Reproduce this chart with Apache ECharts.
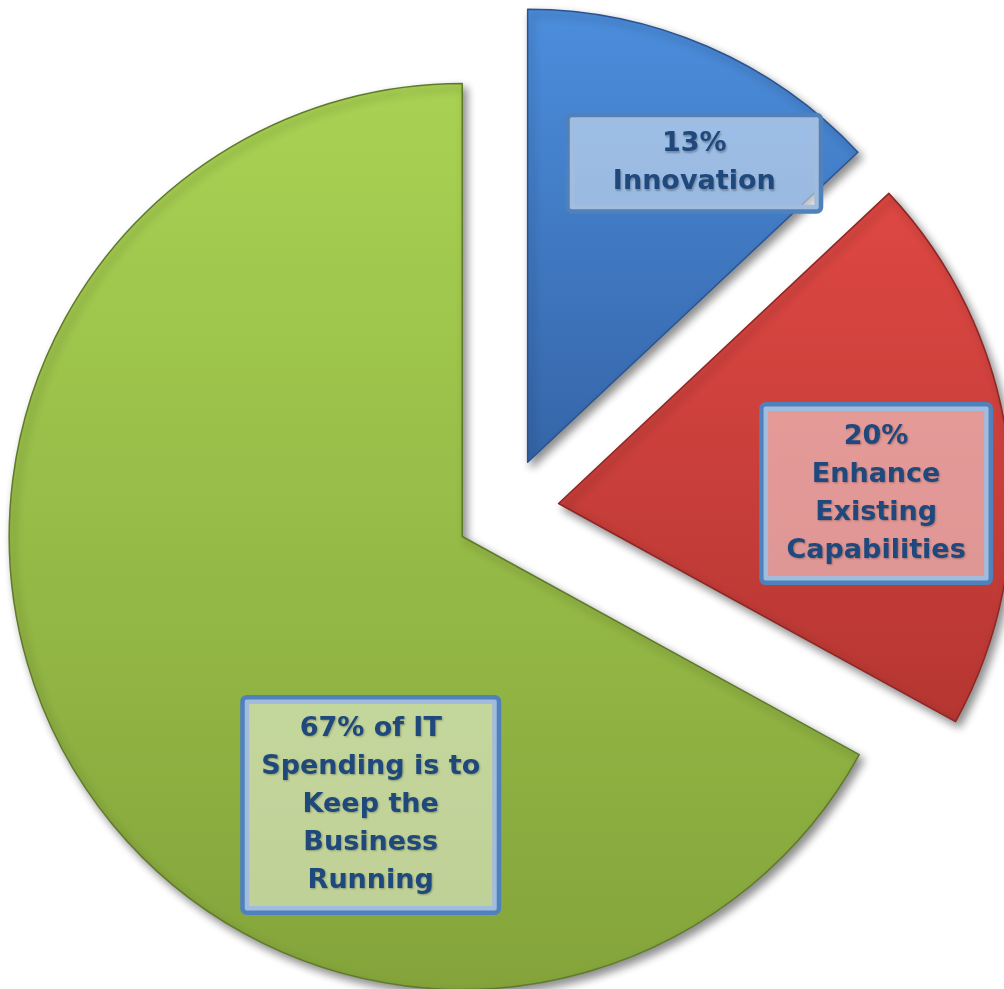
<!DOCTYPE html>
<html>
<head>
<meta charset="utf-8">
<script src="https://cdn.jsdelivr.net/npm/echarts@6/dist/echarts.min.js"></script>
<style>
  html, body { margin: 0; padding: 0; background: #ffffff; }
  #chart { width: 1004px; height: 989px; }
</style>
</head>
<body>
<div id="chart"></div>
<script>
// ---- data ----
const categories = ['Innovation', 'Enhance Existing Capabilities', 'Keep the Business Running'];
const shares = [13, 20, 67];
const labelLines = [
  ['13%', 'Innovation'],
  ['20%', 'Enhance', 'Existing', 'Capabilities'],
  ['67% of IT', 'Spending is to', 'Keep the', 'Business', 'Running']
];

// ---- styling ----
const sliceTop = ['#4C8EDD', '#DE4843', '#A9D253'];
const sliceBottom = ['#3565A8', '#B63632', '#84A43B'];
const sliceEdge = ['#2A5390', '#8E2623', '#5E7A2A'];
const boxWidth = [249, 225, 252];
const boxPadV = [8, 11, 10.5];
const labelShift = [[1.5, -72.5], [91, 36], [-63.5, 268.5]];
const LINE_H = 38;

function grad(i) {
  return new echarts.graphic.LinearGradient(0, 0, 0, 1, [
    { offset: 0, color: sliceTop[i] },
    { offset: 1, color: sliceBottom[i] }
  ]);
}

const data = categories.map((name, i) => {
  const style = {
    color: grad(i),
    borderColor: sliceEdge[i],
    borderWidth: 1.5,
    shadowColor: 'rgba(0,0,0,0.45)',
    shadowBlur: 8,
    shadowOffsetX: 4,
    shadowOffsetY: 5
  };
  const label = {
    show: true,
    position: 'inside',
    formatter: labelLines[i].join('\n'),
    width: boxWidth[i],
    padding: [boxPadV[i], 0, boxPadV[i], 0],
    align: 'center'
  };
  return {
    name,
    value: shares[i],
    selected: true,
    itemStyle: style,
    label: label,
    select: { itemStyle: style, label: label }
  };
});

const chart = echarts.init(document.getElementById('chart'), null, { renderer: 'canvas' });
chart.setOption({
  backgroundColor: '#ffffff',
  animation: false,
  series: [{
    type: 'pie',
    center: [507, 510],
    radius: [0, 453],
    startAngle: 90,
    clockwise: true,
    selectedMode: 'multiple',
    selectedOffset: 52,
    avoidLabelOverlap: false,
    emphasis: { disabled: true },
    label: {
      show: true,
      position: 'inside',
      color: '#1F497D',
      fontFamily: 'DejaVu Sans',
      fontWeight: 'bold',
      fontSize: 27,
      lineHeight: LINE_H,
      backgroundColor: 'rgba(255,255,255,0.47)',
      borderColor: '#4F81BD',
      borderWidth: 4.5,
      borderRadius: 2,
      textShadowColor: 'rgba(0,0,0,0.28)',
      textShadowBlur: 2,
      textShadowOffsetX: 1,
      textShadowOffsetY: 1.5
    },
    labelLine: { show: false },
    labelLayout: function (params) {
      const s = labelShift[params.dataIndex];
      return { dx: s[0], dy: s[1] };
    },
    data: data
  }]
});
</script>
</body>
</html>
